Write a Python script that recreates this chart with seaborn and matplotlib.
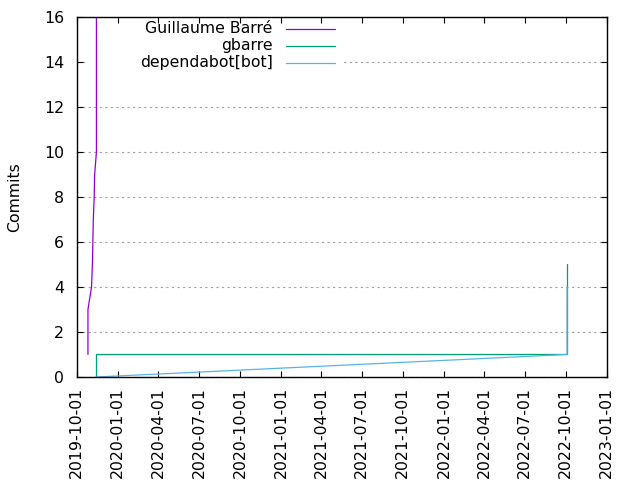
import pandas as pd
import numpy as np
import matplotlib.pyplot as plt
import matplotlib.dates as mdates
import seaborn as sns

sns.set_style("white")
plt.rcParams["font.family"] = ["DejaVu Sans"]
plt.rcParams["text.color"] = "black"
plt.rcParams["axes.labelcolor"] = "black"
plt.rcParams["xtick.color"] = "black"
plt.rcParams["ytick.color"] = "black"

# ----------------------------------------------------------------
# DATA (cumulative commits per author)
# ----------------------------------------------------------------
guillaume_dates = ["2019-10-26", "2019-10-26", "2019-10-26", "2019-11-03", "2019-11-05",
                   "2019-11-06", "2019-11-07", "2019-11-09", "2019-11-10", "2019-11-14",
                   "2019-11-14"]
guillaume_commits = [1, 2, 3, 4, 5, 6, 7, 8, 9, 10, 40]

gbarre_dates = ["2019-11-13", "2019-11-13", "2022-10-04", "2022-10-04", "2022-10-04",
                "2022-10-04", "2022-10-04"]
gbarre_commits = [0, 1, 1, 2, 3, 4, 5]

dependabot_dates = ["2019-11-13", "2022-10-04", "2022-10-04", "2022-10-04", "2022-10-04"]
dependabot_commits = [0, 1, 2, 3, 4]

authors = ["Guillaume Barré", "gbarre", "dependabot[bot]"]
colors = ["#9400D3", "#009E73", "#56B4E9"]

x_ticks = pd.date_range("2019-10-01", "2023-01-01", freq="3MS")

frames = []
for name, d, c in zip(authors,
                      [guillaume_dates, gbarre_dates, dependabot_dates],
                      [guillaume_commits, gbarre_commits, dependabot_commits]):
    frames.append(pd.DataFrame({"date": pd.to_datetime(d), "commits": c, "author": name}))
df = pd.concat(frames, ignore_index=True)

FS = 11.3

# ----------------------------------------------------------------
# PLOT
# ----------------------------------------------------------------
fig = plt.figure(figsize=(6.4, 4.8), dpi=100)
ax = fig.add_axes([0.120, 0.2146, 0.828, 0.75])

sns.lineplot(data=df, x="date", y="commits", hue="author", hue_order=authors,
             palette=colors, sort=False, estimator=None, linewidth=0.9,
             legend=False, ax=ax)

ax.set_xlim(pd.Timestamp("2019-10-01"), pd.Timestamp("2023-01-01"))
ax.set_ylim(0, 16)
ax.set_xticks(x_ticks)
ax.xaxis.set_major_formatter(mdates.DateFormatter("%Y-%m-%d"))
ax.set_yticks(np.arange(0, 17, 2))
ax.tick_params(axis="x", rotation=90, direction="in", length=4, pad=7,
               labelsize=FS, top=True, bottom=True)
ax.tick_params(axis="y", direction="in", length=4, pad=9,
               labelsize=FS, left=True, right=True)
for lbl in ax.get_xticklabels():
    lbl.set_va("top")

ax.yaxis.grid(True, color="#a0a0a0", linestyle=(0, (2, 3)), linewidth=0.8)
ax.set_axisbelow(True)
for s in ax.spines.values():
    s.set_color("black")
    s.set_linewidth(1.0)

ax.set_xlabel("")
ax.set_ylabel("Commits", fontsize=FS)
ax.yaxis.set_label_coords(-0.104, 0.5)

# gnuplot-style key: text right-justified, sample line to the right
ax.add_patch(plt.Rectangle((0.02, 0.84), 0.48, 0.14, transform=ax.transAxes,
                           facecolor="white", edgecolor="none", zorder=1.5))
for i, (name, c) in enumerate(zip(authors, colors)):
    yy = 0.967 - i * 0.047
    ax.text(0.370, yy, name, transform=ax.transAxes, ha="right", va="center",
            fontsize=FS, zorder=3)
    ax.plot([0.394, 0.487], [yy, yy], transform=ax.transAxes, color=c,
            linewidth=0.9, zorder=3)

plt.savefig("out.png", dpi=100)
plt.close()
